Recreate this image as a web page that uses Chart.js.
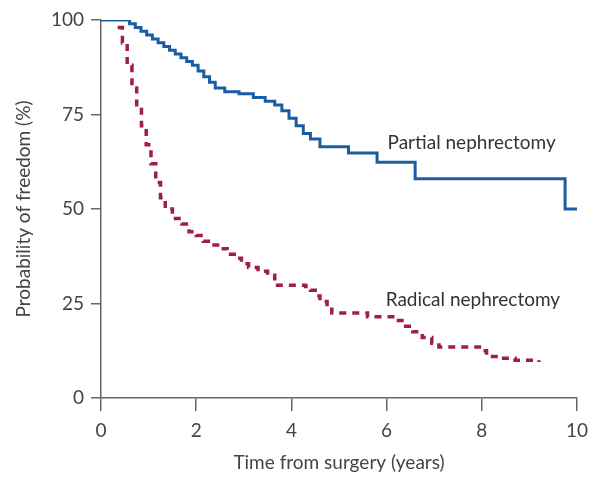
<!DOCTYPE html>
<html>
<head>
<meta charset="utf-8">
<script src="https://cdn.jsdelivr.net/npm/chart.js@4/dist/chart.umd.min.js"></script>
<style>
  html, body { margin: 0; padding: 0; background: #fff; }
  #wrap { width: 596px; height: 480px; }
</style>
</head>
<body>
<div id="wrap"><canvas id="kmChart" width="596" height="480"></canvas></div>
<script>
// Kaplan-Meier curves: time in years, probability in %
const partialYears = [0, 0.6, 0.72, 0.84, 0.96, 1.08, 1.2, 1.32, 1.44, 1.56, 1.68, 1.8, 1.92, 2.04, 2.16, 2.28, 2.4, 2.6, 2.9, 3.2, 3.45, 3.65, 3.8, 3.95, 4.1, 4.25, 4.4, 4.6, 5.2, 5.8, 6.6, 9.75, 10.0];
const partialProb  = [100, 99, 98, 97, 96, 95, 94, 93, 92, 91, 90, 89, 88, 86.5, 85, 83.5, 82, 81, 80.5, 79.5, 78.5, 77.5, 76, 74, 72, 70, 68.5, 66.5, 64.8, 62.4, 58, 50, 50];

const radicalYears = [0.35, 0.45, 0.55, 0.65, 0.75, 0.85, 0.95, 1.05, 1.15, 1.25, 1.35, 1.5, 1.7, 1.85, 2.0, 2.15, 2.3, 2.5, 2.65, 2.8, 2.95, 3.1, 3.3, 3.5, 3.65, 4.3, 4.4, 4.5, 4.6, 4.75, 4.85, 5.6, 6.25, 6.4, 6.55, 6.75, 6.95, 7.1, 7.95, 8.1, 8.4, 8.7, 9.2];
const radicalProb  = [98, 94, 88, 82, 77, 72, 67, 62, 57, 53, 50, 47.5, 46, 44, 43, 41.5, 40.5, 39.5, 38, 37, 35.5, 34.5, 33.5, 32.5, 29.8, 29.5, 28.5, 27, 25.5, 23.5, 22.5, 21.5, 20.5, 19, 17.5, 16, 14.5, 13.5, 12.5, 11, 10.5, 10, 9.5];

const xTicks = [0, 2, 4, 6, 8, 10];
const yTicks = [0, 25, 50, 75, 100];

// Curve labels (anchored in data units)
const curveLabels = [
    { text: 'Partial nephrectomy', x: 6.02, y: 67.5 },
    { text: 'Radical nephrectomy', x: 5.98, y: 26 }
];

const FONT = 'Lato';
const FONT_SIZE = 19;
const TEXT_COLOR = '#444';
const AXIS_COLOR = '#666';

function toPoints(xs, ys) {
    return xs.map((x, i) => ({ x: x, y: ys[i] }));
}

// Draws the curve names next to each line
const curveLabelPlugin = {
    id: 'curveLabels',
    afterDatasetsDraw(chart) {
        const ctx = chart.ctx;
        const xs = chart.scales.x;
        const ys = chart.scales.y;
        ctx.save();
        ctx.fillStyle = '#333';
        ctx.font = FONT_SIZE + 'px ' + FONT;
        ctx.textAlign = 'left';
        ctx.textBaseline = 'middle';
        curveLabels.forEach(l => {
            ctx.fillText(l.text, xs.getPixelForValue(l.x), ys.getPixelForValue(l.y));
        });
        ctx.restore();
    }
};

const ctx = document.getElementById('kmChart');
new Chart(ctx, {
    type: 'line',
    data: {
        datasets: [
            {
                label: 'Partial nephrectomy',
                data: toPoints(partialYears, partialProb),
                borderColor: '#1b5ca2',
                borderWidth: 3,
                stepped: true,
                pointRadius: 0,
                fill: false
            },
            {
                label: 'Radical nephrectomy',
                data: toPoints(radicalYears, radicalProb),
                borderColor: '#9e1e4b',
                borderWidth: 3.5,
                borderDash: [7, 6],
                stepped: true,
                pointRadius: 0,
                fill: false
            }
        ]
    },
    options: {
        responsive: false,
        animation: false,
        layout: { padding: { top: 20, right: 15, left: 0, bottom: 0 } },
        plugins: {
            legend: { display: false },
            tooltip: { enabled: false }
        },
        scales: {
            x: {
                type: 'linear',
                min: 0,
                max: 10,
                afterBuildTicks: s => { s.ticks = xTicks.map(v => ({ value: v })); },
                afterFit: s => { s.height = 82; },
                grid: { display: true, drawOnChartArea: false, tickLength: 13, color: AXIS_COLOR, lineWidth: 1.5 },
                border: { display: true, color: AXIS_COLOR, width: 1.5 },
                ticks: { color: TEXT_COLOR, padding: 8, font: { family: FONT, size: FONT_SIZE }, maxRotation: 0 },
                title: {
                    display: true,
                    text: 'Time from surgery (years)',
                    color: TEXT_COLOR,
                    font: { family: FONT, size: FONT_SIZE },
                    padding: { top: 4, bottom: 6 }
                }
            },
            y: {
                min: 0,
                max: 100,
                afterBuildTicks: s => { s.ticks = yTicks.map(v => ({ value: v })); },
                afterFit: s => { s.width = 101; },
                grid: { display: true, drawOnChartArea: false, tickLength: 10, color: AXIS_COLOR, lineWidth: 1.5 },
                border: { display: true, color: AXIS_COLOR, width: 1.5 },
                ticks: { color: TEXT_COLOR, padding: 7, font: { family: FONT, size: FONT_SIZE } },
                title: {
                    display: true,
                    text: 'Probability of freedom (%)',
                    color: TEXT_COLOR,
                    font: { family: FONT, size: FONT_SIZE },
                    padding: { top: 12, bottom: 4 }
                }
            }
        }
    },
    plugins: [curveLabelPlugin]
});
</script>
</body>
</html>
